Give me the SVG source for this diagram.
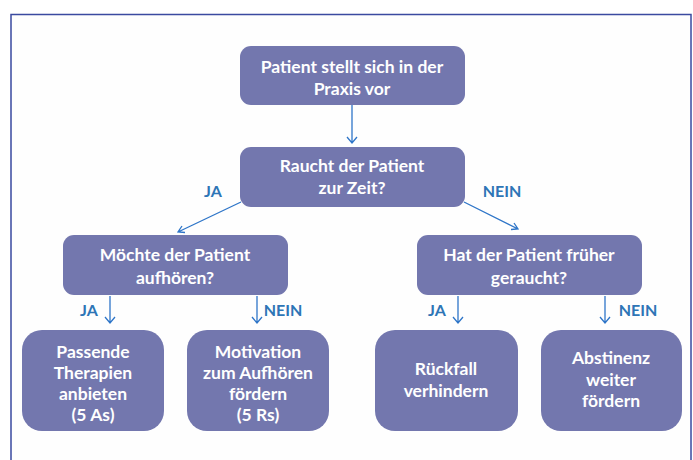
<svg xmlns="http://www.w3.org/2000/svg" width="693" height="460" viewBox="0 0 693 460">
<defs>
<style>
.box{fill:#7377ae;}
.t{font-family:Lato,"Liberation Sans",sans-serif;font-weight:bold;font-size:17.5px;fill:#ffffff;text-anchor:middle;}
.lbl{font-family:Lato,"Liberation Sans",sans-serif;font-weight:bold;font-size:16px;fill:#2e75b6;text-anchor:middle;}
.c{stroke:#2e75c8;stroke-width:1.3;fill:none;}
</style>
</defs>
<rect x="0" y="0" width="693" height="460" fill="#ffffff"/>
<rect x="11" y="14.5" width="680" height="450" fill="#fefefe" stroke="#3a4aa0" stroke-width="1.5"/>
<g id="connectors">
<path class="c" d="M352 105 V143 M347 137 L352 143 L357 137"/>
<path class="c" d="M241 202 L178 232 M185 232.5 L178 232 L182 226"/>
<path class="c" d="M464 202 L518 229 M511 229.5 L518 229 L514 223"/>
<path class="c" d="M110 296 V323 M105 317 L110 323 L115 317"/>
<path class="c" d="M257 296 V323 M252 317 L257 323 L262 317"/>
<path class="c" d="M458 296 V323 M453 317 L458 323 L463 317"/>
<path class="c" d="M605 296 V323 M600 317 L605 323 L610 317"/>
<text class="lbl" x="213" y="197">JA</text>
<text class="lbl" x="502" y="197">NEIN</text>
<text class="lbl" x="89" y="316">JA</text>
<text class="lbl" x="283" y="316">NEIN</text>
<text class="lbl" x="437" y="316">JA</text>
<text class="lbl" x="638" y="316">NEIN</text>
</g>
<g id="n1"><rect class="box" x="240" y="46" width="225" height="59" rx="11"/>
<text class="t" x="352" y="73">Patient stellt sich in der</text><text class="t" x="352" y="95">Praxis vor</text></g>
<g id="n2"><rect class="box" x="240" y="147" width="225" height="60" rx="11"/>
<text class="t" x="352" y="172">Raucht der Patient</text><text class="t" x="352" y="194">zur Zeit?</text></g>
<g id="n3"><rect class="box" x="63" y="235" width="225" height="60" rx="11"/>
<text class="t" x="175" y="261">Möchte der Patient</text><text class="t" x="175" y="284">aufhören?</text></g>
<g id="n4"><rect class="box" x="417" y="235" width="225" height="60" rx="11"/>
<text class="t" x="529" y="261">Hat der Patient früher</text><text class="t" x="529" y="284">geraucht?</text></g>
<g id="n5"><rect class="box" x="22" y="330" width="142" height="101" rx="20"/>
<text class="t" x="93" y="358">Passende</text><text class="t" x="93" y="379">Therapien</text><text class="t" x="93" y="400">anbieten</text><text class="t" x="93" y="421">(5 As)</text></g>
<g id="n6"><rect class="box" x="187" y="330" width="142" height="101" rx="20"/>
<text class="t" x="258" y="358">Motivation</text><text class="t" x="258" y="379">zum Aufhören</text><text class="t" x="258" y="400">fördern</text><text class="t" x="258" y="421">(5 Rs)</text></g>
<g id="n7"><rect class="box" x="375" y="330" width="143" height="101" rx="20"/>
<text class="t" x="446" y="375">Rückfall</text><text class="t" x="446" y="397">verhindern</text></g>
<g id="n8"><rect class="box" x="541" y="330" width="141" height="101" rx="20"/>
<text class="t" x="611" y="364">Abstinenz</text><text class="t" x="611" y="386">weiter</text><text class="t" x="611" y="407">fördern</text></g>
</svg>
